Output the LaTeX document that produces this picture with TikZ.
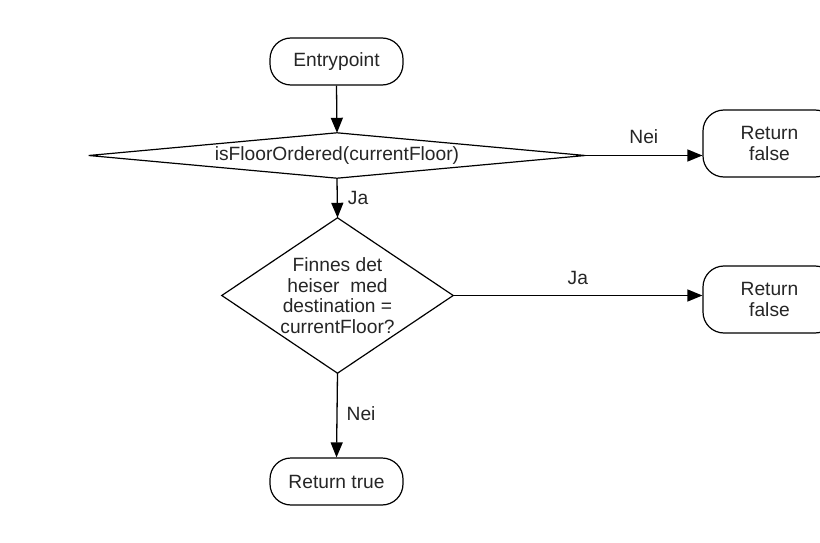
\documentclass[tikz,border=0pt]{standalone}
\usepackage{fontspec}
\setmainfont{Liberation Sans}
\usetikzlibrary{arrows.meta}
\begin{document}
\begin{tikzpicture}[x=1pt,y=-1pt,
  every node/.style={font=\fontsize{19.2}{20.5}\selectfont, text=black!85},
  term/.style={draw, line width=1.2pt, rounded corners=21pt, minimum width=133pt, inner sep=0pt, align=center},
  dec/.style={draw=none, inner sep=0pt, align=center},
  lbl/.style={inner sep=0pt},
  arr/.style={line width=1.3pt, -{Triangle[length=15pt,width=12pt]}},
  dline/.style={line width=1.2pt, line join=miter}]
\useasboundingbox (0,0) rectangle (820,543);
\clip (0,0) rectangle (820,543);
\fill[white] (0,0) rectangle (820,543);

\node[term, minimum height=47pt] (entry) at (336.5,61.5) {Entrypoint};
\node[dec, minimum width=496pt, minimum height=45pt] (d1) at (337,155.5) {isFloorOrdered(currentFloor)};
\draw[dline] (d1.west) -- (d1.north) -- (d1.east) -- (d1.south) -- cycle;
\node[term, minimum height=67pt] (b1) at (769.5,143.5) {Return\\false};
\node[dec, minimum width=231pt, minimum height=155pt] (d2) at (337.5,295.5) {Finnes det\\heiser\ \ med\\destination =\\currentFloor?};
\draw[dline] (d2.west) -- (d2.north) -- (d2.east) -- (d2.south) -- cycle;
\node[term, minimum height=67pt] (b2) at (769.5,299.5) {Return\\false};
\node[term, minimum height=47pt] (rt) at (336.5,481.5) {Return true};

\draw[arr] (entry.south) -- (d1.north);
\draw[arr] (d1.east) -- (d1.east -| b1.west) node[lbl, pos=0.5, above=11pt] (n1) {Nei};
\draw[arr] (d1.south) -- (d2.north) node[lbl, pos=0.5, right=10pt] (j1) {Ja};
\draw[arr] (d2.east) -- (d2.east -| b2.west) node[lbl, pos=0.5, above=10pt] (j2) {Ja};
\draw[arr] (d2.south) -- (rt.north) node[lbl, pos=0.48, right=9pt] (n2) {Nei};
\end{tikzpicture}
\end{document}
